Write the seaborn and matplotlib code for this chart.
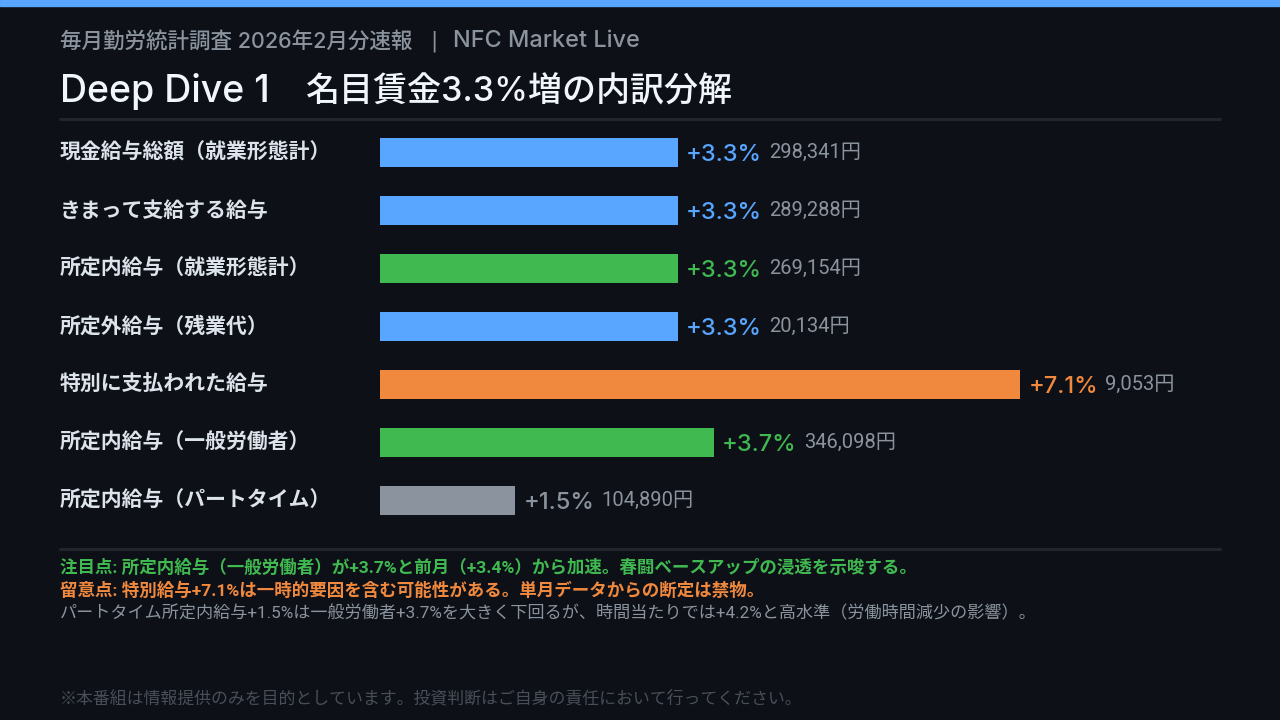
import matplotlib
matplotlib.use("Agg")
import matplotlib.pyplot as plt
import seaborn as sns
import pandas as pd
from matplotlib.lines import Line2D

categories = ["現金給与総額（就業形態計）", "きまって支給する給与", "所定内給与（就業形態計）",
              "所定外給与（残業代）", "特別に支払われた給与", "所定内給与（一般労働者）",
              "所定内給与（パートタイム）"]
growth_pct = [3.3, 3.3, 3.3, 3.3, 7.1, 3.7, 1.5]
amount_yen = ["298,341円", "289,288円", "269,154円", "20,134円", "9,053円", "346,098円", "104,890円"]
group = ["total", "total", "scheduled", "total", "special", "scheduled", "part"]

palette = {"total": "#58a6ff", "scheduled": "#3fb950", "special": "#f0883e", "part": "#8b949e"}
BG = "#0d1017"

sns.set_theme(style="dark")
plt.rcParams["font.family"] = ["Roboto", "Noto Sans CJK JP", "DejaVu Sans"]
CJK = ["Noto Sans CJK JP", "DejaVu Sans"]
INTER = ["Inter", "Noto Sans CJK JP", "DejaVu Sans"]

df = pd.DataFrame({"cat": categories, "pct": growth_pct, "amt": amount_yen, "grp": group})

fig = plt.figure(figsize=(12.8, 7.2), dpi=100, facecolor=BG)
ax = fig.add_axes([380/1280, 1-529/720, 840/1280, 406/720])
ax.set_facecolor(BG)

sns.barplot(data=df, x="pct", y="cat", hue="grp", palette=palette, dodge=False,
            orient="h", width=0.5, legend=False, ax=ax, saturation=1, linewidth=0)
ax.set_xlim(0, 840/90.2)
ax.set_ylim(6.5, -0.5)
ax.axis("off")

for i, row in df.iterrows():
    col = palette[row["grp"]]
    ax.text(-320/840, i, row["cat"], transform=ax.get_yaxis_transform(),
            ha="left", va="center", color="#dce3ea", fontsize=15, fontweight="bold",
            family=CJK)
    t = ax.annotate(f"+{row['pct']:.1f}%", xy=(row["pct"], i), xytext=(6, -2),
                    textcoords="offset points", ha="left", va="center",
                    color=col, fontsize=17, fontweight="medium", family=INTER)
    ax.annotate(row["amt"], xy=(1, 0.5), xycoords=t, xytext=(5, 2),
                textcoords="offset points", ha="left", va="center",
                color="#8b949e", fontsize=14.5)

# top accent bar
fig.patches.append(plt.Rectangle((0, 1-6/720), 1, 6/720, transform=fig.transFigure,
                                 color="#58a6ff", zorder=5))
SUB = "#8b949e"
fig.text(60/1280, 1-41/720, "毎月勤労統計調査 2026年2月分速報",
         color=SUB, fontsize=15.5, va="center", ha="left", fontweight="medium", family=INTER)
fig.text(434/1280, 1-41/720, "|", color=SUB, fontsize=15.5, va="center", ha="center",
         family=["DejaVu Sans"])
fig.text(453/1280, 1-41/720, "NFC Market Live",
         color=SUB, fontsize=16.9, va="center", ha="left", fontweight="medium", family=INTER)

fig.text(60/1280, 1-92/720, "Deep Dive 1",
         color="#f0f6fc", fontsize=27, va="center", ha="left", fontweight="medium", family=INTER)
fig.text(305/1280, 1-92/720, "名目賃金3.3%増の内訳分解",
         color="#f0f6fc", fontsize=24.5, va="center", ha="left", fontweight="medium", family=INTER)
for yy in (119, 549):
    fig.add_artist(Line2D([60/1280, 1220/1280], [1-yy/720, 1-yy/720],
                          transform=fig.transFigure, color="#21262d", linewidth=2.2))

fig.text(60/1280, 1-567/720, "注目点: 所定内給与（一般労働者）が+3.7%と前月（+3.4%）から加速。春闘ベースアップの浸透を示唆する。",
         color="#3fb950", fontsize=12.6, fontweight="bold", va="center", ha="left")
fig.text(60/1280, 1-590/720, "留意点: 特別給与+7.1%は一時的要因を含む可能性がある。単月データからの断定は禁物。",
         color="#f0883e", fontsize=12.6, fontweight="bold", va="center", ha="left")
fig.text(60/1280, 1-613/720, "パートタイム所定内給与+1.5%は一般労働者+3.7%を大きく下回るが、時間当たりでは+4.2%と高水準（労働時間減少の影響）。",
         color="#8b949e", fontsize=12.3, va="center", ha="left")
fig.text(60/1280, 1-698/720, "※本番組は情報提供のみを目的としています。投資判断はご自身の責任において行ってください。",
         color="#484f58", fontsize=12.2, va="center", ha="left")

fig.savefig("out.png", dpi=100, facecolor=BG)
